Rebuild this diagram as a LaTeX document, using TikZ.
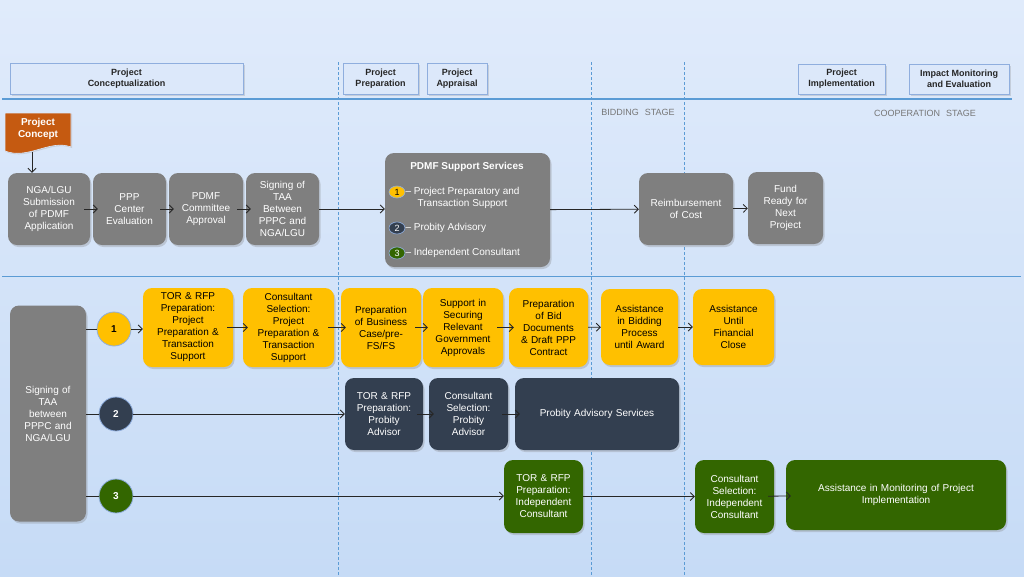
\documentclass[tikz,border=0pt]{standalone}
\usepackage{fontspec}
\setmainfont{Liberation Sans}
\usetikzlibrary{shapes.geometric, positioning, arrows.meta, calc, shadows}

\definecolor{bgtop}{RGB}{224,235,251}
\definecolor{bgbot}{RGB}{198,219,246}
\definecolor{rule}{RGB}{91,155,213}
\definecolor{hdrfill}{RGB}{220,232,250}
\definecolor{hdrline}{RGB}{143,174,222}
\definecolor{boxgrey}{RGB}{127,127,127}
\definecolor{boxyellow}{RGB}{255,192,0}
\definecolor{boxnavy}{RGB}{51,63,80}
\definecolor{boxgreen}{RGB}{51,102,0}
\definecolor{conceptorange}{RGB}{197,90,17}
\definecolor{stagegrey}{RGB}{118,118,118}

\tikzset{
  header/.style={rectangle, draw=hdrline, line width=0.8pt, fill=hdrfill, inner sep=0pt, align=center, text=black!85, font=\fontsize{9}{11}\selectfont\bfseries, drop shadow={opacity=0.25, shadow xshift=1.5pt, shadow yshift=-1.5pt}},
  card/.style={rectangle, rounded corners=9pt, inner sep=0pt, align=center, font=\fontsize{10}{12}\selectfont, drop shadow={opacity=0.3, shadow xshift=1.5pt, shadow yshift=-2pt}},
  greycard/.style={card, fill=boxgrey, text=white},
  yellowcard/.style={card, fill=boxyellow, text=black},
  navycard/.style={card, fill=boxnavy, text=white},
  greencard/.style={card, fill=boxgreen, text=white},
  numdot/.style={circle, minimum size=34pt, inner sep=0pt, line width=0.8pt, font=\fontsize{10}{12}\selectfont\bfseries},
  smalldot/.style={ellipse, minimum width=16pt, minimum height=12pt, inner sep=0pt, line width=0.6pt, font=\fontsize{9}{10}\selectfont},
  arrow/.style={->, >={Straight Barb[length=4pt, width=8pt]}, line width=0.8pt, black!85},
  overarrow/.style={arrow, shorten <=-6pt, shorten >=-5pt},
  stage/.style={text=stagegrey, font=\fontsize{9}{11}\selectfont}
}

\begin{document}
\begin{tikzpicture}[x=1pt, y=-1pt]
  \useasboundingbox (0,0) rectangle (1024,576);
  \shade[top color=bgtop, bottom color=bgbot] (0,0) rectangle (1024,576);

  % --- stage rules ---
  \foreach \x in {338,591,684}
    \draw[rule, dashed, line width=0.7pt, dash pattern=on 3pt off 2pt] (\x,62) -- (\x,576);
  \draw[rule, line width=1.5pt] (2,99) -- (1012,99);
  \draw[rule, line width=1.5pt] (2,276.5) -- (1021,276.5);

  % --- headers ---
  \node (hconcept) [header, minimum width=233pt, minimum height=31pt] at (126.5,78.5) {Project\\Conceptualization};
  \node (hprep) [header, minimum width=75pt, minimum height=31pt] at (380.5,78.5) {Project\\Preparation};
  \node (happr) [header, minimum width=60pt, minimum height=31pt] at (457,78.5) {Project\\Appraisal};
  \node (himpl) [header, minimum width=87pt, minimum height=30pt] at (841.5,79) {Project\\Implementation};
  \node (himpact) [header, minimum width=100pt, minimum height=30pt] at (959,79) {Impact Monitoring\\and Evaluation};
  \node (bidding) [stage] at (638,112) {BIDDING\hspace{6pt}STAGE};
  \node (coop) [stage] at (925,113) {COOPERATION\hspace{6pt}STAGE};

  % --- upper flow ---
  \filldraw[fill=conceptorange, draw=hdrfill, line width=0.6pt, drop shadow={opacity=0.25, shadow xshift=1pt, shadow yshift=-1pt}]
    (5,113) -- (71,113) -- (71,147) .. controls (50,139) and (28,160) .. (5,151) -- cycle;
  \node (concept) [text=white, align=center, font=\fontsize{10}{12}\selectfont\bfseries] at (38,129) {Project\\Concept};
  \coordinate (conceptfoot) at (32,152);

  \node (nga) [greycard, minimum width=82pt, minimum height=72pt, text width=78pt] at (49,209) {NGA/LGU\\Submission\\of PDMF\\Application};
  \node (ppp) [greycard, minimum width=73pt, minimum height=72pt, text width=70pt] at (129.5,209) {PPP\\Center\\Evaluation};
  \node (pdmfc) [greycard, minimum width=74pt, minimum height=72pt, text width=70pt] at (206,209) {PDMF\\Committee\\Approval};
  \node (signtop) [greycard, minimum width=73pt, minimum height=72pt, text width=70pt] at (282.5,209) {Signing of\\TAA\\Between\\PPPC and\\NGA/LGU};
  \node (support) [greycard, minimum width=165pt, minimum height=114pt] at (467.5,210) {};
  \node (suptitle) [text=white, font=\fontsize{10}{12}\selectfont\bfseries] at (467,167) {PDMF Support Services};
  \node (sdot1) [smalldot, fill=boxyellow, draw=hdrline] at (397,192) {1};
  \node (stext1) [right=0pt of sdot1, yshift=-6pt, inner sep=0pt, align=center, text=white, font=\fontsize{10}{12}\selectfont] {-- Project Preparatory and\\Transaction Support};
  \node (sdot2) [smalldot, fill=boxnavy, draw=hdrline, text=white] at (397,228) {2};
  \node (stext2) [right=0pt of sdot2, inner sep=0pt, text=white, font=\fontsize{10}{12}\selectfont] {-- Probity Advisory};
  \node (sdot3) [smalldot, fill=boxgreen, draw=hdrline, text=white] at (397,253) {3};
  \node (stext3) [right=0pt of sdot3, inner sep=0pt, text=white, font=\fontsize{10}{12}\selectfont] {-- Independent Consultant};
  \node (reimb) [greycard, minimum width=94pt, minimum height=72pt, text width=90pt] at (686,209) {Reimbursement\\of Cost};
  \node (fund) [greycard, minimum width=75pt, minimum height=72pt, text width=70pt] at (785.5,208) {Fund\\Ready for\\Next\\Project};

  \draw [arrow] (conceptfoot) -- (conceptfoot |- nga.north);
  \draw [overarrow] (nga) -- (ppp);
  \draw [overarrow] (ppp) -- (pdmfc);
  \draw [overarrow] (pdmfc) -- (signtop);
  \draw [arrow] (signtop.east) -- (signtop.east -| support.west);
  \draw [arrow] (support) -- (reimb);
  \draw [arrow] (reimb) -- (fund);

  % --- lower flow ---
  \node (bigsign) [greycard, minimum width=76pt, minimum height=216pt, text width=72pt] at (48,413.5) {Signing of\\TAA\\between\\PPPC and\\NGA/LGU};
  \node (c1) [numdot, fill=boxyellow, draw=hdrline] at (114,329) {1};
  \node (c2) [numdot, fill=boxnavy, draw=hdrline, text=white] at (116,414) {2};
  \node (c3) [numdot, fill=boxgreen, draw=hdrline, text=white] at (116,496) {3};

  \node (b1) [yellowcard, minimum width=90pt, minimum height=79pt, text width=86pt] at (188,327.5) {TOR \& RFP\\Preparation:\\Project\\Preparation \&\\Transaction\\Support};
  \node (b2) [yellowcard, minimum width=91pt, minimum height=79pt, text width=86pt] at (288.5,327.5) {Consultant\\Selection:\\Project\\Preparation \&\\Transaction\\Support};
  \node (b3) [yellowcard, minimum width=80pt, minimum height=79pt, text width=76pt] at (381,327.5) {Preparation\\of Business\\Case/pre-\\FS/FS};
  \node (b4) [yellowcard, minimum width=80pt, minimum height=79pt, text width=76pt] at (463,327.5) {Support in\\Securing\\Relevant\\Government\\Approvals};
  \node (b5) [yellowcard, minimum width=79pt, minimum height=79pt, text width=76pt] at (548.5,327.5) {Preparation\\of Bid\\Documents\\\& Draft PPP\\Contract};
  \node (b6) [yellowcard, minimum width=77pt, minimum height=76pt, text width=74pt] at (639.5,327) {Assistance\\in Bidding\\Process\\until Award};
  \node (b7) [yellowcard, minimum width=81pt, minimum height=76pt, text width=76pt] at (733.5,327) {Assistance\\Until\\Financial\\Close};

  \node (p1) [navycard, minimum width=78pt, minimum height=72pt, text width=74pt] at (384,414) {TOR \& RFP\\Preparation:\\Probity\\Advisor};
  \node (p2) [navycard, minimum width=79pt, minimum height=72pt, text width=74pt] at (468.5,414) {Consultant\\Selection:\\Probity\\Advisor};
  \node (p3) [navycard, minimum width=164pt, minimum height=72pt, text width=156pt] at (597,414) {Probity Advisory Services};

  \node (g1) [greencard, minimum width=79pt, minimum height=73pt, text width=74pt] at (543.5,496.5) {TOR \& RFP\\Preparation:\\Independent\\Consultant};
  \node (g2) [greencard, minimum width=79pt, minimum height=73pt, text width=74pt] at (734.5,496.5) {Consultant\\Selection:\\Independent\\Consultant};
  \node (g3) [greencard, minimum width=220pt, minimum height=70pt, text width=210pt] at (896,495) {Assistance in Monitoring of Project\\Implementation};

  \draw [arrow, -] (bigsign.east |- c1) -- (c1);
  \draw [arrow] (c1) -- (c1 -| b1.west);
  \draw [overarrow] (b1) -- (b2);
  \draw [overarrow] (b2) -- (b3);
  \draw [overarrow] (b3) -- (b4);
  \draw [overarrow] (b4) -- (b5);
  \draw [arrow] (b5) -- (b6);
  \draw [arrow] (b6) -- (b7);

  \draw [arrow, -] (bigsign.east |- c2) -- (c2);
  \draw [arrow] (c2) -- (p1);
  \draw [overarrow] (p1) -- (p2);
  \draw [overarrow] (p2) -- (p3);

  \draw [arrow, -] (bigsign.east |- c3) -- (c3);
  \draw [arrow] (c3) -- (c3 -| g1.west);
  \draw [arrow] (g1) -- (g2);
  \draw [overarrow] (g2) -- (g3);
\end{tikzpicture}
\end{document}
